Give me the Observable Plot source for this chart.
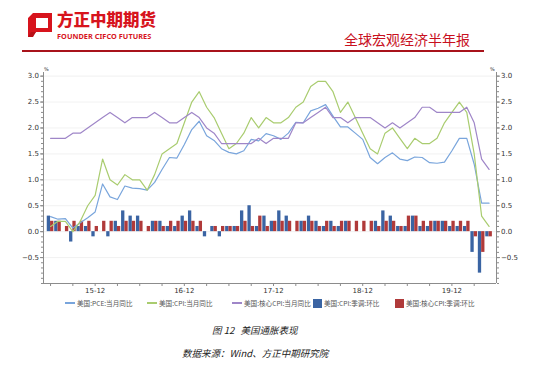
<!DOCTYPE html>
<html><head><meta charset="utf-8">
<script src="https://cdn.jsdelivr.net/npm/d3@7"></script>
<script src="https://cdn.jsdelivr.net/npm/@observablehq/plot@0.6"></script>
<style>
body{margin:0;width:550px;height:372px;background:#fff;position:relative;overflow:hidden;font-family:"Noto Sans CJK SC","Noto Sans",sans-serif}
.abs{position:absolute;white-space:nowrap;line-height:1}
.lg{position:absolute;top:298px;font-size:6.6px;color:#555;white-space:nowrap;line-height:10px;display:flex;align-items:center}
.sw{display:inline-block;margin-right:2px}
</style></head><body>
<div id="chart" class="abs" style="left:0;top:0"></div>
<svg class="abs" style="left:27px;top:12px" width="27" height="27" viewBox="0 0 27 27">
  <path d="M6 1 H25 V6 H9 V20 L4 25 H1 V6 Z" fill="#d7141d"/>
  <path d="M9 20 H25 V6 H21 V16 H9 Z" fill="#d7141d"/>
  <path d="M1 25 L6 25 L9 20 L4 20 Z" fill="#b80f17"/>
</svg>
<div class="abs" style="left:57px;top:11px;font-size:16.5px;height:18px;font-weight:900;color:#d7141d;letter-spacing:0px">方正中期期货</div>
<div class="abs" style="left:57px;top:33px;font-size:7.3px;font-weight:700;color:#d7141d;font-family:'Noto Sans','DejaVu Sans',sans-serif;letter-spacing:0.05px">FOUNDER CIFCO FUTURES</div>
<div class="abs" style="left:344px;top:32px;font-size:14px;color:#c8101e">全球宏观经济半年报</div>
<div class="abs" style="left:22px;top:49.5px;width:462px;height:2.5px;background:#a8131b"></div>
<div class="abs" style="left:44px;top:67px;font-size:5px;color:#333;font-family:'DejaVu Sans'">%</div>
<div class="abs" style="left:490px;top:67px;font-size:5px;color:#333;font-family:'DejaVu Sans'">%</div>
<div id="legend"></div>
<div class="abs" style="left:212px;top:326px;font-size:9.5px;color:#222;font-style:italic;font-family:'Noto Sans CJK SC',serif">图&nbsp;12&nbsp;&nbsp;&nbsp;美国通胀表现</div>
<div class="abs" style="left:182px;top:349px;font-size:9.5px;color:#222;font-style:italic;font-family:'Noto Sans CJK SC',serif">数据来源：Wind、方正中期研究院</div>
<script>
const months = [
 "2015-06","2015-07","2015-08","2015-09","2015-10","2015-11","2015-12",
 "2016-01","2016-02","2016-03","2016-04","2016-05","2016-06","2016-07","2016-08","2016-09","2016-10","2016-11","2016-12",
 "2017-01","2017-02","2017-03","2017-04","2017-05","2017-06","2017-07","2017-08","2017-09","2017-10","2017-11","2017-12",
 "2018-01","2018-02","2018-03","2018-04","2018-05","2018-06","2018-07","2018-08","2018-09","2018-10","2018-11","2018-12",
 "2019-01","2019-02","2019-03","2019-04","2019-05","2019-06","2019-07","2019-08","2019-09","2019-10","2019-11","2019-12",
 "2020-01","2020-02","2020-03","2020-04","2020-05"];
const pce = [0.29,0.24,0.25,0.07,0.17,0.27,0.38,
 0.92,0.67,0.62,0.88,0.84,0.83,0.8,0.95,1.2,1.43,1.42,1.68,
 1.97,2.13,1.85,1.76,1.6,1.53,1.5,1.56,1.78,1.75,1.89,1.85,
 1.78,1.9,2.11,2.1,2.33,2.38,2.45,2.23,2.02,2.02,1.9,1.78,
 1.43,1.31,1.43,1.52,1.4,1.37,1.44,1.43,1.33,1.32,1.34,1.56,
 1.8,1.8,1.3,0.55,0.55];
const cpi = [0.1,0.2,0.2,0.0,0.2,0.5,0.7,
 1.4,1.0,0.9,1.1,1.0,1.0,0.8,1.1,1.5,1.6,1.7,2.1,
 2.5,2.7,2.4,2.2,1.9,1.6,1.7,1.9,2.2,2.0,2.2,2.1,
 2.1,2.2,2.4,2.5,2.8,2.9,2.9,2.7,2.3,2.5,2.2,1.9,
 1.6,1.5,1.9,2.0,1.8,1.6,1.8,1.7,1.7,1.8,2.1,2.3,
 2.5,2.3,1.5,0.3,0.1];
const coreCpi = [1.8,1.8,1.8,1.9,1.9,2.0,2.1,
 2.2,2.3,2.2,2.1,2.2,2.2,2.2,2.3,2.2,2.1,2.1,2.2,
 2.3,2.2,2.0,1.9,1.7,1.7,1.7,1.7,1.7,1.8,1.7,1.8,
 1.8,1.8,2.1,2.1,2.2,2.3,2.4,2.2,2.2,2.1,2.2,2.2,
 2.2,2.1,2.0,2.1,2.0,2.1,2.2,2.4,2.4,2.3,2.3,2.3,
 2.3,2.4,2.1,1.4,1.2];
const cpiMoM = [0.3,0.2,0.0,-0.2,0.1,0.1,-0.1,
 0.0,-0.1,0.2,0.4,0.3,0.3,0.0,0.2,0.2,0.1,0.1,0.3,
 0.4,0.1,-0.1,0.1,-0.1,0.1,0.1,0.4,0.5,0.1,0.3,0.2,
 0.4,0.3,0.0,0.2,0.3,0.2,0.1,0.2,0.1,0.2,0.0,0.0,
 0.0,0.2,0.4,0.3,0.1,0.1,0.3,0.1,0.1,0.2,0.2,0.1,
 0.1,0.1,-0.4,-0.8,-0.1];
const coreMoM = [0.2,0.2,0.1,0.2,0.2,0.2,0.1,
 0.2,0.2,0.1,0.2,0.2,0.2,0.1,0.2,0.1,0.2,0.2,0.2,
 0.2,0.2,0.0,0.1,0.1,0.1,0.1,0.2,0.1,0.3,0.1,0.2,
 0.2,0.2,0.2,0.2,0.2,0.1,0.2,0.1,0.2,0.2,0.2,0.2,
 0.2,0.1,0.2,0.2,0.1,0.3,0.3,0.2,0.2,0.2,0.2,0.2,
 0.2,0.2,-0.1,-0.4,-0.1];
const seriesNames = ["美国:PCE:当月同比","美国:CPI:当月同比","美国:核心CPI:当月同比","美国:CPI:季调:环比","美国:核心CPI:季调:环比"];
const colors = ["#79a5dc","#a9cc6f","#9f86c8","#3a64a3","#b03a3a"];
const yMajor = [-0.5,0.0,0.5,1.0,1.5,2.0,2.5,3.0];
const yDomain = [-1.0, 3.07];
const xDomain = [-0.95, 60];

const rows = months.map((m, i) => ({i, m, pce: pce[i], cpi: cpi[i], core: coreCpi[i], cpiMoM: cpiMoM[i], coreMoM: coreMoM[i]}));
const qTicks = rows.filter(d => ["03","06","09","12"].includes(d.m.slice(5))).map(d => d.i);
const lab = new Map(rows.filter(d => d.m.endsWith("-12")).map(d => [d.i, d.m.slice(2)]));
const yMinor = d3.range(-10, 31).map(k => k / 10);
const bw = 0.445;

const chart = Plot.plot({
  width: 550, height: 300,
  marginLeft: 43, marginRight: 54, marginTop: 72, marginBottom: 17,
  style: {fontFamily: "'DejaVu Sans', sans-serif", fontSize: "7px", color: "#333", background: "transparent"},
  x: {type: "linear", domain: xDomain},
  y: {domain: yDomain},
  marks: [
    Plot.ruleY(yMajor, {stroke: "#ededed", strokeWidth: 0.8}),
    Plot.rect(rows, {x1: d => d.i - bw, x2: d => d.i, y1: 0, y2: "cpiMoM", fill: colors[3], inset: 0}),
    Plot.rect(rows, {x1: d => d.i, x2: d => d.i + bw, y1: 0, y2: "coreMoM", fill: colors[4], inset: 0}),
    Plot.line(rows, {x: "i", y: "pce", stroke: colors[0], strokeWidth: 1.2}),
    Plot.line(rows, {x: "i", y: "cpi", stroke: colors[1], strokeWidth: 1.2}),
    Plot.line(rows, {x: "i", y: "core", stroke: colors[2], strokeWidth: 1.2}),
    Plot.ruleX([xDomain[0], xDomain[1]], {stroke: "#8c8c8c", strokeWidth: 1}),
    Plot.ruleY([yDomain[0]], {stroke: "#8c8c8c", strokeWidth: 1}),
    Plot.axisY({anchor: "left", ticks: yMinor, tickSize: 2, tickFormat: () => "", stroke: "#8c8c8c", label: null}),
    Plot.axisY({anchor: "right", ticks: yMinor, tickSize: 2, tickFormat: () => "", stroke: "#8c8c8c", label: null}),
    Plot.axisY({anchor: "left", ticks: yMajor, tickSize: 3, tickPadding: 1.5, tickFormat: d3.format(".1f"), stroke: "#8c8c8c", fill: "#333", label: null}),
    Plot.axisY({anchor: "right", ticks: yMajor, tickSize: 3, tickPadding: 1.5, tickFormat: d3.format(".1f"), stroke: "#8c8c8c", fill: "#333", label: null}),
    Plot.axisX({ticks: qTicks, tickSize: 3, tickPadding: 2, tickFormat: i => lab.get(i) || "", stroke: "#8c8c8c", fill: "#333", label: null})
  ]
});
document.getElementById("chart").appendChild(chart);

// legend
const lgPos = [65, 147, 232, 313, 395];
const legend = document.getElementById("legend");
seriesNames.forEach((name, k) => {
  const el = document.createElement("div");
  el.className = "lg";
  el.style.left = lgPos[k] + "px";
  const sw = document.createElement("span");
  sw.className = "sw";
  if (k < 3) { sw.style.width = "10px"; sw.style.height = "1.2px"; sw.style.background = colors[k]; }
  else { sw.style.width = "9px"; sw.style.height = "9px"; sw.style.background = colors[k]; }
  el.appendChild(sw);
  el.appendChild(document.createTextNode(name));
  legend.appendChild(el);
});
</script>
</body></html>
